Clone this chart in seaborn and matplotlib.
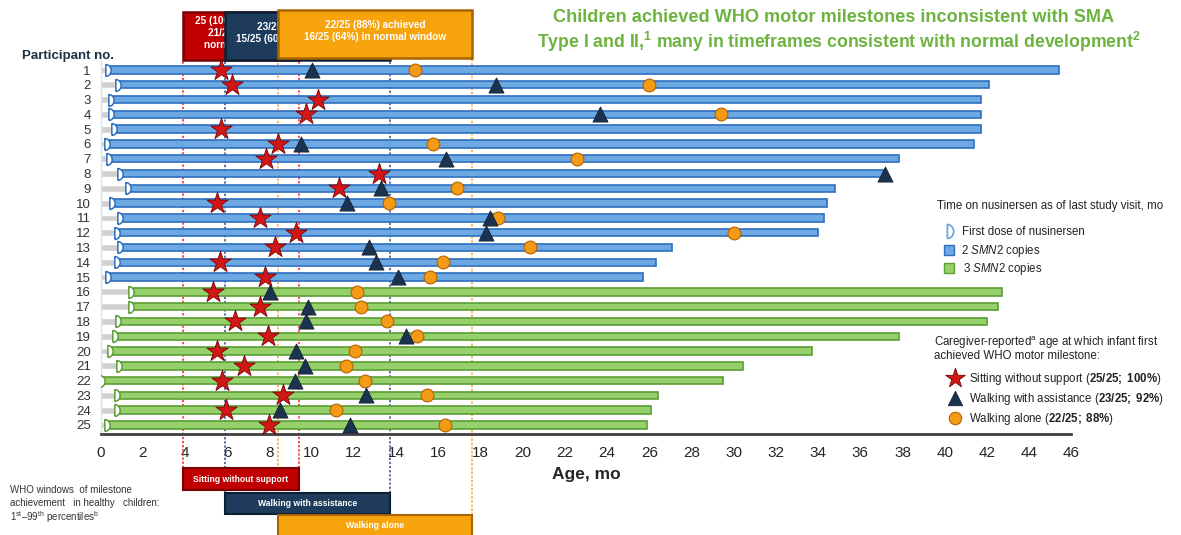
import numpy as np
import matplotlib
matplotlib.use("Agg")
import matplotlib.pyplot as plt
import seaborn as sns
from matplotlib.path import Path
from matplotlib.patches import Rectangle
from matplotlib.transforms import blended_transform_factory

# --- data (ages in months) ---
participants = list(range(1, 26))
smn2_copies = [2] * 15 + [3] * 10
first_dose = [0.35, 0.84, 0.5, 0.5, 0.62, 0.3, 0.4, 0.92, 1.28, 0.54,
              0.92, 0.77, 0.92, 0.78, 0.35, 1.44, 1.44, 0.84, 0.69, 0.45,
              0.87, 0.09, 0.8, 0.8, 0.3]
last_visit = [45.4, 42.1, 41.7, 41.7, 41.7, 41.4, 37.85, 37.2, 34.8, 34.4,
              34.3, 34.0, 27.1, 26.3, 25.7, 42.7, 42.5, 42.0, 37.85, 33.7,
              30.45, 29.5, 26.4, 26.1, 25.9]
sitting = [5.73, 6.23, 10.3, 9.72, 5.73, 8.43, 7.83, 13.2, 11.28, 5.54,
           7.56, 9.28, 8.25, 5.65, 7.81, 5.33, 7.56, 6.37, 7.93, 5.51,
           6.8, 5.78, 8.64, 5.95, 7.98]
walk_assist = [10.0, 18.73, np.nan, 23.66, np.nan, 9.51, 16.37, 37.17, 13.3, 11.69,
               18.46, 18.26, 12.7, 13.07, 14.11, 8.01, 9.83, 9.72, 14.48, 9.28,
               9.67, 9.21, 12.59, 8.49, 11.8]
walk_alone = [14.92, 25.98, np.nan, 29.4, np.nan, 15.74, 22.56, np.nan, 16.89, 13.69,
              18.84, 30.0, 20.36, 16.21, 15.61, 12.16, 12.35, 13.58, 15.0, 12.08,
              11.61, 12.51, 15.47, 11.17, 16.34]

# WHO windows (1st-99th percentile)
win_labels = ["Sitting without support", "Walking with assistance", "Walking alone"]
win_start = [3.9, 5.9, 8.4]
win_end = [9.4, 13.7, 17.6]
win_summary = ["25 (100%) achieved\n21/25 (84%) in\nnormal window",
               "23/25 (92%) achieved\n15/25 (60%) in normal window",
               "22/25 (88%) achieved\n16/25 (64%) in normal window"]

win_colors = ["#C00000", "#1F3B5B", "#F7A30C"]
win_edges = ["#7A0000", "#0C1F33", "#A86400"]
win_lines = ["#FF1A1A", "#2A4C8C", "#F5A623"]

BLUE, BLUE_E = "#6CA8E2", "#2E6FBF"
GREEN, GREEN_E = "#95D06A", "#5A9E35"

sns.set_style("white")
plt.rcParams["font.family"] = ["Liberation Sans", "DejaVu Sans"]
plt.rcParams["mathtext.fontset"] = "custom"
plt.rcParams["mathtext.rm"] = "Liberation Sans"
plt.rcParams["mathtext.bf"] = "Liberation Sans:bold"
plt.rcParams["mathtext.it"] = "Liberation Sans:italic"

fig = plt.figure(figsize=(11.81, 5.35), dpi=100)
ax = fig.add_axes([0.0851, 0.1888, 0.8221, 0.6972])

rows = np.arange(len(participants))
fill = [BLUE if c == 2 else GREEN for c in smn2_copies]
edge = [BLUE_E if c == 2 else GREEN_E for c in smn2_copies]

# grey: age before first dose
ax.barh(rows, first_dose, height=0.46, color="#D0D0D0", zorder=2)
# coloured: time on nusinersen
dur = np.array(last_visit) - np.array(first_dose)
ax.barh(rows, dur, left=first_dose, height=0.5, color=fill, edgecolor=edge,
        linewidth=1.2, zorder=3)

# first dose marker ("D" shape)
th = np.linspace(-np.pi / 2, np.pi / 2, 24)
dverts = [(-0.45, -1)] + [(-0.45 + 0.9 * np.cos(t), np.sin(t)) for t in th] + [(-0.45, 1), (-0.45, -1)]
d_marker = Path(dverts)
for r, fd, ec in zip(rows, first_dose, edge):
    ax.plot(fd, r, marker=d_marker, ms=8.5, mfc="white", mec=ec, mew=1.1, zorder=4)

sns.scatterplot(x=walk_alone, y=rows, marker="o", s=85, color="#F39A16",
                edgecolor="#B86200", linewidth=0.8, ax=ax, zorder=5)
sns.scatterplot(x=walk_assist, y=rows, marker="^", s=120, color="#1C3350",
                edgecolor="#0C1A2A", linewidth=0.5, ax=ax, zorder=6)
sns.scatterplot(x=sitting, y=rows, marker="*", s=260, color="#D31616",
                edgecolor="#7A0000", linewidth=0.6, ax=ax, zorder=7)

ax.set_xlim(0, 46)
ax.set_ylim(24.61, -0.61)
ax.set_yticks(rows)
ax.set_yticklabels(participants, fontsize=9.5, color="#333333")
ax.set_xticks(np.arange(0, 47, 2))
ax.set_xticks(np.arange(0, 47, 1), minor=True)
ax.tick_params(axis="x", which="major", length=5, width=1.2, color="#404040",
               labelsize=11, pad=4, direction="out")
ax.tick_params(axis="x", which="minor", length=3, width=1, color="#404040", direction="out")
ax.tick_params(axis="y", length=0, pad=7)
for s in ["top", "right"]:
    ax.spines[s].set_visible(False)
ax.spines["bottom"].set_color("#404040")
ax.spines["bottom"].set_linewidth(2)
ax.spines["left"].set_color("#D6E2EF")
ax.spines["left"].set_linewidth(1)
ax.set_xlabel("Age, mo", fontsize=12.5, fontweight="bold", labelpad=5)
ax.set_ylabel("")

# WHO windows: top summary boxes, dotted lines, bottom labels
trans = blended_transform_factory(ax.transData, fig.transFigure)
top_y = [(535 - 60) / 535, (535 - 60) / 535, (535 - 58) / 535]
top_h = [48 / 535, 48 / 535, 48 / 535]
bot_y = [(535 - 490) / 535, (535 - 514) / 535, (535 - 537) / 535]
bot_h = [22 / 535, 21 / 535, 22 / 535]
for i in range(3):
    x0, x1 = win_start[i], win_end[i]
    for xv in (x0, x1):
        ax.plot([xv, xv], [bot_y[i] + bot_h[i], top_y[i]], transform=trans,
                color=win_lines[i], lw=1.1, ls=(0, (1.5, 1.2)), clip_on=False, zorder=1)
    ax.add_patch(Rectangle((x0, top_y[i]), x1 - x0, top_h[i], transform=trans,
                           facecolor=win_colors[i], edgecolor=win_edges[i], lw=1.8,
                           clip_on=False, zorder=10 + 2 * i))
    ax.text((x0 + x1) / 2, top_y[i] + top_h[i] / 2 + 0.006, win_summary[i],
            transform=trans, ha="center", va="center", color="white",
            fontsize=7.2, fontweight="bold", linespacing=1.25, zorder=11 + 2 * i,
            clip_on=False)
    ax.add_patch(Rectangle((x0, bot_y[i]), x1 - x0, bot_h[i], transform=trans,
                           facecolor=win_colors[i], edgecolor=win_edges[i], lw=1.5,
                           clip_on=False, zorder=10))
    ax.text((x0 + x1) / 2, bot_y[i] + bot_h[i] / 2, win_labels[i], transform=trans,
            ha="center", va="center", color="white", fontsize=6.2,
            fontweight="bold", zorder=11, clip_on=False)

# overlay in pixel coordinates for titles and legend
ov = fig.add_axes([0, 0, 1, 1])
ov.set_xlim(0, 1181)
ov.set_ylim(535, 0)
ov.axis("off")

title_green = "#6DB33F"
ov.text(834, 18, "Children achieved WHO motor milestones inconsistent with SMA",
        ha="center", va="center", fontsize=13.1, fontweight="bold", color=title_green)
ov.text(839, 42, r"Type I and II,$^{\bf 1}$ many in timeframes consistent with normal development$^{\bf 2}$",
        ha="center", va="center", fontsize=12.7, fontweight="bold", color=title_green)

ov.text(22, 56, "Participant no.", ha="left", va="center", fontsize=9.5,
        fontweight="bold", color="#1F2F45")

ov.text(10, 490, "WHO windows  of milestone", fontsize=7, va="center", color="#333333")
ov.text(10, 503, "achievement   in healthy   children:", fontsize=7, va="center", color="#333333")
ov.text(10, 517, r"1$^{\rm st}$–99$^{\rm th}$ percentiles$^{\rm b}$", fontsize=7,
        va="center", color="#333333")

# legend
tc = "#222222"
lfs = 8.3
ov.text(937, 206, "Time on nusinersen as of last study visit, mo", fontsize=lfs,
        va="center", color=tc)
ov.plot(950, 231, marker=d_marker, ms=10, mfc="white", mec="#6CA8E2", mew=1.3)
ov.text(962, 232, "First dose of nusinersen", fontsize=lfs, va="center", color=tc)
ov.add_patch(Rectangle((944, 245), 10, 10, facecolor=BLUE, edgecolor=BLUE_E, lw=1))
ov.text(961, 251, r"2 $\it{SMN2}$ copies", fontsize=lfs, va="center", color=tc)
ov.add_patch(Rectangle((944, 263), 10, 10, facecolor=GREEN, edgecolor=GREEN_E, lw=1))
ov.text(963, 269, r"3 $\it{SMN2}$ copies", fontsize=lfs, va="center", color=tc)

ov.text(934, 343, r"Caregiver-reported$^{\rm a}$ age at which infant first", fontsize=lfs,
        va="center", color=tc)
ov.text(934, 356, "achieved WHO motor milestone:", fontsize=lfs, va="center", color=tc)
ov.scatter([955], [378], marker="*", s=220, color="#D31616", edgecolor="#7A0000", linewidth=0.6)
ov.text(969, 379, r"Sitting without support ($\bf{25/25;\ 100\%}$)", fontsize=lfs,
        va="center", color=tc)
ov.scatter([955], [398], marker="^", s=110, color="#1C3350", edgecolor="#0C1A2A", linewidth=0.5)
ov.text(969, 399, r"Walking with assistance ($\bf{23/25;\ 92\%}$)", fontsize=lfs,
        va="center", color=tc)
ov.scatter([955], [418], marker="o", s=80, color="#F39A16", edgecolor="#B86200", linewidth=0.8)
ov.text(969, 419, r"Walking alone ($\bf{22/25;\ 88\%}$)", fontsize=lfs,
        va="center", color=tc)

fig.savefig("out.png", dpi=100)
